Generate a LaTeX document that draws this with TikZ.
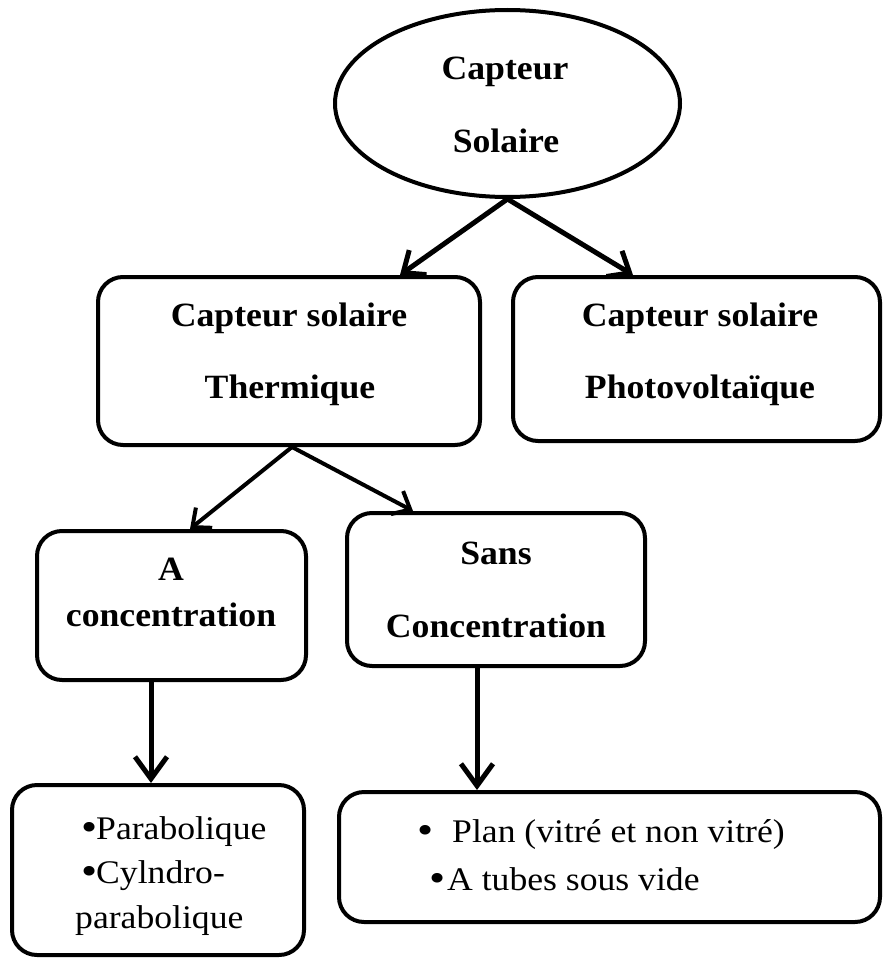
\documentclass[tikz,border=0pt]{standalone}
\usepackage{fontspec}
\setmainfont{Liberation Serif}
\newfontfamily\hdfont{Liberation Serif}[FakeStretch=1.05]
\newfontfamily\txfont{Liberation Serif}[FakeStretch=1.08]
\newfontfamily\bulfont{Liberation Serif}[FakeStretch=1.15]
\usetikzlibrary{shapes.geometric,arrows.meta}
\newcommand\bul[1]{\makebox[#1][l]{\smash{\raisebox{-1.5pt}{\bulfont\fontsize{40}{36}\selectfont •}}}}
\begin{document}
\begin{tikzpicture}[x=1pt,y=-1pt,
  box/.style={draw, line width=4pt, rounded corners=25pt, inner sep=0pt, fill=none},
  oval/.style={draw, ellipse, line width=4pt, inner sep=0pt},
  hd/.style={anchor=base, inner sep=0pt, font=\hdfont\bfseries\fontsize{34}{40}\selectfont},
  tx/.style={anchor=base west, inner sep=0pt, font=\txfont\fontsize{33}{36}\selectfont},
  bigarrow/.style={line width=5pt, -{Straight Barb[length=18pt,width=30pt]}},
  midarrow/.style={line width=4pt, -{Straight Barb[length=15pt,width=26pt]}},
  downarrow/.style={line width=5pt, -{Straight Barb[length=22pt,width=32pt]}}
]
\useasboundingbox (0,0) rectangle (884,958);
\fill[white] (0,0) rectangle (884,958);

% shapes
\node[oval, minimum width=345pt, minimum height=187pt] (E) at (507.5,103.5) {};
\node[box, minimum width=382pt, minimum height=168pt] (th) at (289,361) {};
\node[box, minimum width=367pt, minimum height=164pt] (pv) at (696.5,359) {};
\node[box, minimum width=269pt, minimum height=149pt] (ac) at (171.5,605.5) {};
\node[box, minimum width=298pt, minimum height=153pt] (sc) at (496,589.5) {};
\node[box, minimum width=292pt, minimum height=170pt] (bl) at (158,870) {};
\node[box, minimum width=541pt, minimum height=130pt] (br) at (609.5,857) {};

% texts
\node[hd] (E1) at (505,80) {Capteur};
\node[hd] (E2) at (506,152) {Solaire};
\node[hd] (th1) at (289,326) {Capteur solaire};
\node[hd] (th2) at (290,398) {Thermique};
\node[hd] (pv1) at (700,326) {Capteur solaire};
\node[hd] (pv2) at (700,398) {Photovoltaïque};
\node[hd] (ac1) at (171,580) {A};
\node[hd] (ac2) at (171,626) {concentration};
\node[hd] (sc1) at (496,564) {Sans};
\node[hd] (sc2) at (496,637) {Concentration};
\node[tx] (bl1) at (81,839) {\bul{15pt}Parabolique};
\node[tx] (bl2) at (81,883) {\bul{15pt}Cylndro-};
\node[tx] (bl3) at (75,928) {parabolique};
\node[tx] (br1) at (417,842) {\bul{35pt}Plan (vitré et non vitré)};
\node[tx] (br2) at (429,890) {\bul{18pt}A tubes sous vide};

% connectors
\draw[bigarrow] (E.south) -- ([xshift=111pt]th.north);
\draw[bigarrow] (E.south) -- ([xshift=-63.5pt]pv.north);
\draw[midarrow] ([xshift=3pt]th.south) -- ([xshift=18.5pt]ac.north);
\draw[midarrow] ([xshift=3pt]th.south) -- ([xshift=-83pt]sc.north);
\draw[downarrow] ([xshift=-20.5pt]ac.south) -- ([xshift=-7pt]bl.north);
\draw[downarrow] ([xshift=-19pt]sc.south) -- ([xshift=-132.5pt]br.north);
\end{tikzpicture}
\end{document}
